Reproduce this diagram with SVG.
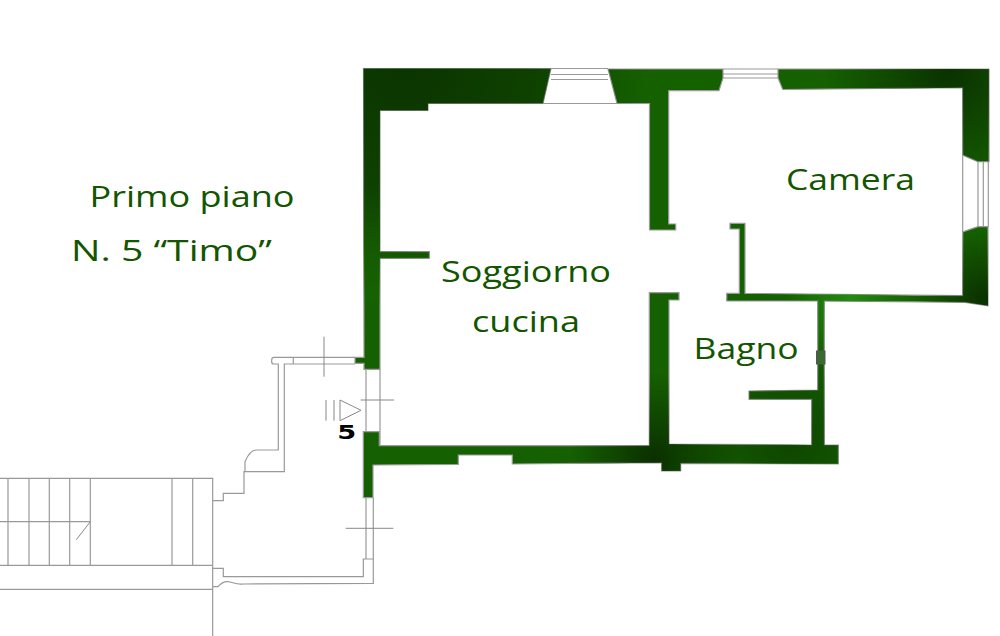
<svg xmlns="http://www.w3.org/2000/svg" xmlns:xlink="http://www.w3.org/1999/xlink" width="1000" height="636" viewBox="0 0 1000 636">
<style>
.t{font-family:"Open Sans","Liberation Sans",sans-serif;font-size:28.5px;fill:#135500}
.l{fill:none;stroke:#999;stroke-width:1.2}
.d{fill:none;stroke:#888;stroke-width:1}
.w{fill:#156000;stroke:#9a9a9a;stroke-width:1.2}
</style>
<defs>
<path id="walls" d="M363.5 68.5H551L543 103.5H428V110.5H380V251.7H429.3V258.3H380V369.3H364V363.3H355V357.3H364Z M608 69L617 103.5H649.5V230H675.7V224H668.7V90.7H719L723 78V69Z M778 69H989V161.7H978L962.7 155V87.7L782.7 89.5L778 78Z M962.7 232L978 226.7H988V305.7L965 302.3L824.3 301V445H838.3V464L680.7 463.3V471H661.7V462.7L512.3 464V455H458.3V464.3L373 465V497.7H363.3V431.7H379.3V445.7H649.3V292.7H679V300H669V444L811.7 445V399.3H749V391L817.7 390V301H726.7V293.3H739.3V229H730V223.3H745V293.3L962.7 295.7Z"/>
<radialGradient id="g1" gradientUnits="userSpaceOnUse" cx="405" cy="60" r="240"><stop offset="0" stop-color="#0b3400"/><stop offset="0.55" stop-color="#0b3400" stop-opacity="0.7"/><stop offset="1" stop-color="#0b3400" stop-opacity="0"/></radialGradient>
<radialGradient id="g2" gradientUnits="userSpaceOnUse" cx="950" cy="72" r="125"><stop offset="0" stop-color="#0a3200"/><stop offset="1" stop-color="#0a3200" stop-opacity="0"/></radialGradient>
<radialGradient id="g3" gradientUnits="userSpaceOnUse" cx="985" cy="300" r="70"><stop offset="0" stop-color="#0a3000"/><stop offset="1" stop-color="#0a3000" stop-opacity="0"/></radialGradient>
<radialGradient id="g4" gradientUnits="userSpaceOnUse" cx="655" cy="458" r="85"><stop offset="0" stop-color="#0a3000"/><stop offset="1" stop-color="#0a3000" stop-opacity="0"/></radialGradient>
<radialGradient id="g5" gradientUnits="userSpaceOnUse" cx="850" cy="298" r="65"><stop offset="0" stop-color="#248a12"/><stop offset="1" stop-color="#248a12" stop-opacity="0"/></radialGradient>
<radialGradient id="g6" gradientUnits="userSpaceOnUse" cx="790" cy="440" r="110"><stop offset="0" stop-color="#0e4600"/><stop offset="1" stop-color="#0e4600" stop-opacity="0"/></radialGradient>
<radialGradient id="g7" gradientUnits="userSpaceOnUse" cx="372" cy="240" r="70"><stop offset="0" stop-color="#1a6c03"/><stop offset="1" stop-color="#1a6c03" stop-opacity="0"/></radialGradient>
</defs>

<g id="stairs">
<path class="l" d="M0 478.3H212.7V636M0 565.3H212.7M0 589.3H212.7M8 478.3V565.3M29 478.3V565.3M49.3 478.3V565.3M69.7 478.3V565.3M90.3 478.3V565.3M172 478.3V565.3M192.7 478.3V565.3M0 521.7H90.3"/>
<path class="d" d="M90.3 521.7L76.3 539.7"/>
</g>

<g id="terrace">
<path class="l" d="M355 357.3H274Q271.7 357.3 271.7 360V362Q271.7 364 274 364H278.3V450H256Q250 450 245 461.7V471.7H284.3V364H355M293.3 357.3V364"/>
<path class="l" d="M245 471.7H244V493.3H223.3V500.7H212.7"/>
<path class="l" d="M212.7 568.3H223.3V576.7H363.3V559H373.3V583.3L243.3 584C238 585 234 583 230 582S222 582 218 586.7H212.7"/>
<path class="l" d="M366 497.7V559M373.3 497.7V559"/>
<path class="d" d="M345.7 528.3H393.3M324 336.7V376.7"/>
</g>

<g id="entrance">
<path class="l" d="M366 369.3V431M380 369.3V445"/>
<path class="d" d="M360.7 400H394M340 400V420.7L361 410.3Z M326 400V420.7M334 400V420.7"/>
<text x="346.7" y="439" text-anchor="middle" textLength="19" lengthAdjust="spacingAndGlyphs" style="font-family:'DejaVu Sans',sans-serif;font-weight:bold;font-size:19px;fill:#000">5</text>
</g>

<g id="windows">
<path class="l" d="M551 68.5H608M551 74.5H608M551 79.5H608M543 103.5H617"/>
<path class="l" d="M723 69H778M723 74H778M723 78H778"/>
<path class="l" d="M962.7 155V232M962.7 155L978 161.5M962.7 232L978 226.7M978 161.5V226.7M983.3 161.5V226.7M988.3 161.5V226.7M978 161.5H988.3M978 226.7H988.3"/>
</g>

<g id="walls-group">
<use xlink:href="#walls" href="#walls" class="w"/>
<use href="#walls" fill="url(#g6)"/>
<use href="#walls" fill="url(#g7)"/>
<use href="#walls" fill="url(#g5)"/>
<use href="#walls" fill="url(#g1)"/>
<use href="#walls" fill="url(#g2)"/>
<use href="#walls" fill="url(#g3)"/>
<use href="#walls" fill="url(#g4)"/>
<rect x="816.5" y="351" width="8.5" height="13" fill="#3a6a30" stroke="#555" stroke-width="1"/>
</g>

<g id="labels">
<text class="t" x="89.5" y="207" textLength="205" lengthAdjust="spacingAndGlyphs">Primo piano</text>
<text class="t" x="71" y="261" textLength="201" lengthAdjust="spacingAndGlyphs">N. 5 “Timo”</text>
<text class="t" x="441" y="282" textLength="170" lengthAdjust="spacingAndGlyphs">Soggiorno</text>
<text class="t" x="472" y="332" textLength="108" lengthAdjust="spacingAndGlyphs">cucina</text>
<text class="t" x="786" y="190" textLength="129" lengthAdjust="spacingAndGlyphs">Camera</text>
<text class="t" x="693.5" y="359" textLength="105" lengthAdjust="spacingAndGlyphs">Bagno</text>
</g>
</svg>
